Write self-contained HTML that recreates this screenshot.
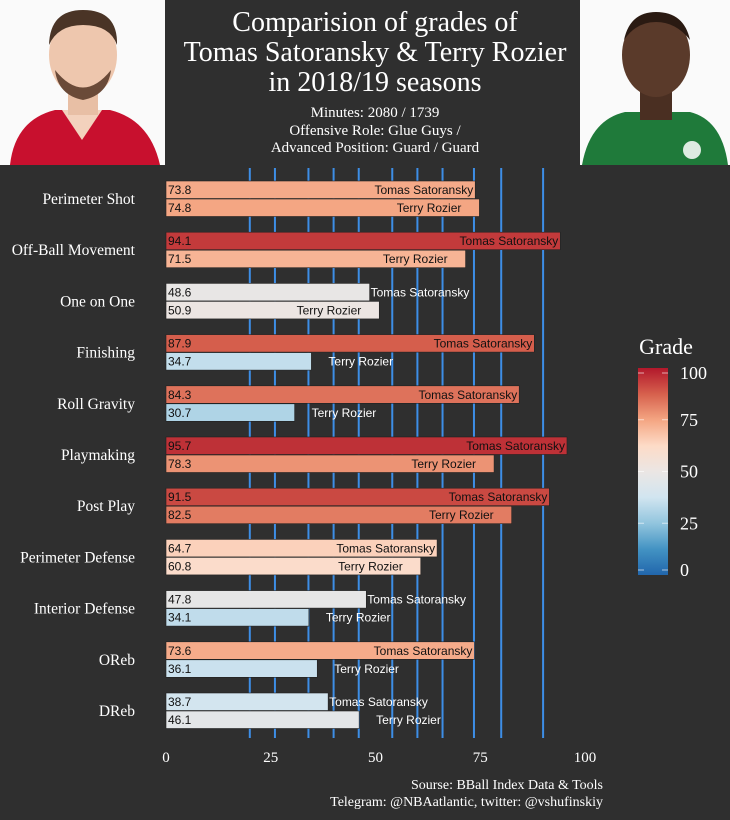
<!DOCTYPE html>
<html><head><meta charset="utf-8"><style>
html,body{margin:0;padding:0;background:#2f2f2f;}
svg{display:block;font-family:"Liberation Serif",serif;}
</style></head><body>
<svg id="chart" width="730" height="820" viewBox="0 0 730 820" xmlns="http://www.w3.org/2000/svg">
<defs>
<linearGradient id="lg" x1="0" y1="1" x2="0" y2="0">
<stop offset="0" stop-color="#2166ac"/><stop offset="0.125" stop-color="#4393c3"/><stop offset="0.25" stop-color="#92c5de"/><stop offset="0.375" stop-color="#d1e5f0"/><stop offset="0.5" stop-color="#ebe6e4"/><stop offset="0.625" stop-color="#fddbc7"/><stop offset="0.75" stop-color="#f4a582"/><stop offset="0.875" stop-color="#d6604d"/><stop offset="1" stop-color="#b2182b"/>
</linearGradient>
</defs>
<rect width="730" height="820" fill="#2f2f2f"/>
<g>
<rect x="0" y="0" width="165" height="165" fill="#fafafa"/>
<path d="M10 165 Q15 120 55 110 L110 110 Q150 120 160 165 Z" fill="#c8102e"/>
<path d="M62 110 L82 140 L102 110 Z" fill="#f3d2bd"/>
<rect x="68" y="85" width="30" height="30" fill="#e8bfa5"/>
<ellipse cx="83" cy="55" rx="34" ry="42" fill="#eec7ae"/>
<path d="M49 45 Q50 10 83 10 Q118 10 117 45 Q110 25 83 25 Q58 25 49 45 Z" fill="#4a3426"/>
<path d="M55 70 Q83 105 111 70 Q108 95 83 100 Q58 95 55 70 Z" fill="#6a4a38"/>
</g>
<g>
<rect x="580" y="0" width="150" height="165" fill="#fafafa"/>
<path d="M582 165 Q590 120 625 112 L690 112 Q722 120 728 165 Z" fill="#1f7a3a"/>
<rect x="640" y="85" width="32" height="35" fill="#4a2f22"/>
<ellipse cx="656" cy="55" rx="34" ry="42" fill="#5a3a2a"/>
<path d="M624 40 Q630 12 656 12 Q684 12 690 40 Q676 22 656 22 Q636 22 624 40 Z" fill="#2a1a12"/>
<circle cx="692" cy="150" r="9" fill="#fff" opacity="0.85"/>
</g>
<g fill="#fff" text-anchor="middle">
<text x="375" y="31" font-size="28">Comparision of grades of</text>
<text x="375" y="61" font-size="28">Tomas Satoransky &amp; Terry Rozier</text>
<text x="375" y="91" font-size="28">in 2018/19 seasons</text>
<text x="375" y="117" font-size="15">Minutes: 2080 / 1739</text>
<text x="375" y="135" font-size="15">Offensive Role: Glue Guys /</text>
<text x="375" y="152" font-size="15">Advanced Position: Guard / Guard</text>
</g>
<g id="vlines"></g>
<g id="bars"></g>
<g id="axis"></g>
<g>
<text x="666" y="354" fill="#fff" font-size="22" text-anchor="middle">Grade</text>
<rect x="638" y="368" width="30" height="207" fill="url(#lg)"/>
<g id="legticks"></g>
</g>
<g fill="#fff" font-size="14" text-anchor="end">
<text x="603" y="789">Sourse: BBall Index Data &amp; Tools</text>
<text x="603" y="806">Telegram: @NBAatlantic, twitter: @vshufinskiy</text>
</g>
</svg>
<script>
const categories=["Perimeter Shot","Off-Ball Movement","One on One","Finishing","Roll Gravity","Playmaking","Post Play","Perimeter Defense","Interior Defense","OReb","DReb"];
const satoransky=[73.8,94.1,48.6,87.9,84.3,95.7,91.5,64.7,47.8,73.6,38.7];
const rozier=[74.8,71.5,50.9,34.7,30.7,78.3,82.5,60.8,34.1,36.1,46.1];
const xTicks=[0,25,50,75,100];
const refLines=[20,26,34,40,46,54,60,66,73.5,80,90];
const legendTicks=[0,25,50,75,100];
const NS="http://www.w3.org/2000/svg";
const X0=166,X1=585;
const xs=v=>X0+(X1-X0)*v/100;
const rowY=i=>199+i*51.2;
const stops=[[0,[33,102,172]],[12.5,[67,147,195]],[25,[146,197,222]],[37.5,[209,229,240]],[50,[235,230,228]],[62.5,[253,219,199]],[75,[244,165,130]],[87.5,[214,96,77]],[100,[178,24,43]]];
function col(v){for(let k=1;k<stops.length;k++){if(v<=stops[k][0]){const a=stops[k-1],b=stops[k],t=(v-a[0])/(b[0]-a[0]);const c=a[1].map((x,j)=>Math.round(x+(b[1][j]-x)*t));return `rgb(${c})`;}}return "rgb(178,24,43)";}
function mk(tag,attrs,parent,text){const e=document.createElementNS(NS,tag);for(const k in attrs)e.setAttribute(k,attrs[k]);if(text!==undefined)e.textContent=text;parent.appendChild(e);return e;}
const vl=document.getElementById('vlines');
refLines.forEach(v=>{const l=mk('line',{x1:xs(v),x2:xs(v),y1:168,y2:738,stroke:'#3d8ee6','stroke-width':2},vl);

});
const bars=document.getElementById('bars');
categories.forEach((c,i)=>{const cy=rowY(i);
const t=mk('text',{x:135,y:cy+5,fill:'#fff','font-size':15.5,'text-anchor':'end'},bars,c);


[[satoransky[i],'Tomas Satoransky',cy-18,0],[rozier[i],'Terry Rozier',cy,1]].forEach(([v,name,y,who])=>{
const r=mk('rect',{x:X0,y:y,width:xs(v)-X0,height:17.5,fill:col(v),stroke:'#222','stroke-width':0.6},bars);


const vt=mk('text',{x:X0+2,y:y+13,'font-size':12,fill:'#111','font-family':'Liberation Sans, sans-serif'},bars,v.toFixed(1));


let ax,anc,fill;
if(who===0){if(v>55){ax=xs(v)-2;anc='end';fill='#111';}else{ax=xs(v)+1;anc='start';fill='#fff';}}
else{if(v>48){ax=xs(v)-18;anc='end';fill='#111';}else{ax=xs(v)+17;anc='start';fill='#fff';}}
const nt=mk('text',{x:ax,y:y+13,'font-size':12,fill:fill,'text-anchor':anc,'font-family':'Liberation Sans, sans-serif'},bars,name);


});});
const ax=document.getElementById('axis');
xTicks.forEach(v=>{const t=mk('text',{x:xs(v),y:762,fill:'#fff','font-size':15,'text-anchor':'middle'},ax,String(v));

});
const lt=document.getElementById('legticks');
legendTicks.forEach(v=>{const y=575-207*v/100+(v===0?-5:v===100?5:0);
mk('line',{x1:638,x2:644,y1:y,y2:y,stroke:'#fff','stroke-opacity':0.6},lt);
mk('line',{x1:662,x2:668,y1:y,y2:y,stroke:'#fff','stroke-opacity':0.6},lt);
const t=mk('text',{x:680,y:y+6,fill:'#fff','font-size':18},lt,String(v));

});
</script>
</body></html>
